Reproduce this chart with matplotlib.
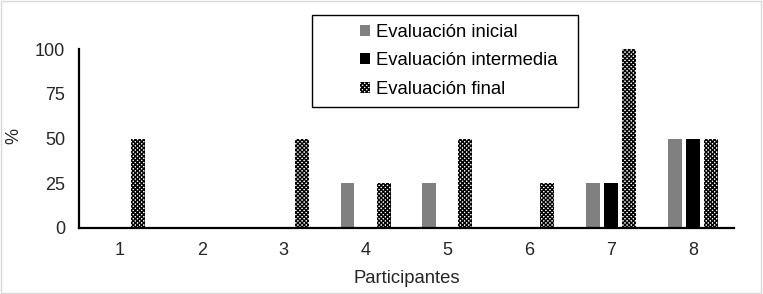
import matplotlib
matplotlib.use("Agg")
import matplotlib.pyplot as plt
import numpy as np
from matplotlib.patches import Rectangle

categories = ["1", "2", "3", "4", "5", "6", "7", "8"]
inicial = [0, 0, 0, 25, 25, 0, 25, 50]
intermedia = [0, 0, 0, 0, 0, 0, 25, 50]
final = [50, 0, 50, 25, 50, 25, 100, 50]
yticks = [0, 25, 50, 75, 100]

plt.rcParams['font.family'] = ['Liberation Sans', 'DejaVu Sans']
plt.rcParams['hatch.linewidth'] = 1.0

fig = plt.figure(figsize=(7.63, 2.94), dpi=100)
ax = fig.add_axes([0.1035, 0.2245, 0.8585, 0.6088])

x = np.arange(len(categories))
off = 0.22
w = 0.17

def mk(vals):
    return [v if v > 0 else np.nan for v in vals]

ax.bar(x - off, mk(inicial), w, color='#808080', label='Evaluación inicial')
ax.bar(x, mk(intermedia), w, color='black', label='Evaluación intermedia')
ax.bar(x + off, mk(final), w, color='white', edgecolor='black', hatch='xxxxxxxx',
       linewidth=0, label='Evaluación final')

ax.set_xlim(-0.5, len(categories) - 0.5)
ax.set_ylim(0, 100)
ax.set_yticks(yticks)
ax.set_xticks(x)
ax.set_xticklabels(categories)
ax.tick_params(length=0, labelsize=13, colors='#262626', pad=10)
for s in ['top', 'right']:
    ax.spines[s].set_visible(False)
for s in ['left', 'bottom']:
    ax.spines[s].set_linewidth(1.6)
    ax.spines[s].set_color('black')

ax.set_xlabel('Participantes', fontsize=13.3, color='#262626', labelpad=8)
fig.text(14 / 763, 1 - 136 / 294, '%', rotation=90, fontsize=13, color='#262626',
         ha='center', va='center')

leg = fig.legend(loc='upper left', bbox_to_anchor=(360 / 763, 1 - 24 / 294), frameon=False,
                 fontsize=13.3, handlelength=0.55, handleheight=0.55, handletextpad=0.3,
                 labelspacing=0.62, borderpad=0, borderaxespad=0)

fig.patches.append(Rectangle((312 / 763, 1 - 107 / 294), 266 / 763, 92 / 294,
                             transform=fig.transFigure, facecolor='white',
                             edgecolor='black', linewidth=1, zorder=2))
leg.set_zorder(3)

fig.patches.append(Rectangle((0.001, 0.002), 0.997, 0.995, transform=fig.transFigure,
                             fill=False, edgecolor='#d9d9d9', linewidth=1))

fig.savefig('out.png', dpi=100)
